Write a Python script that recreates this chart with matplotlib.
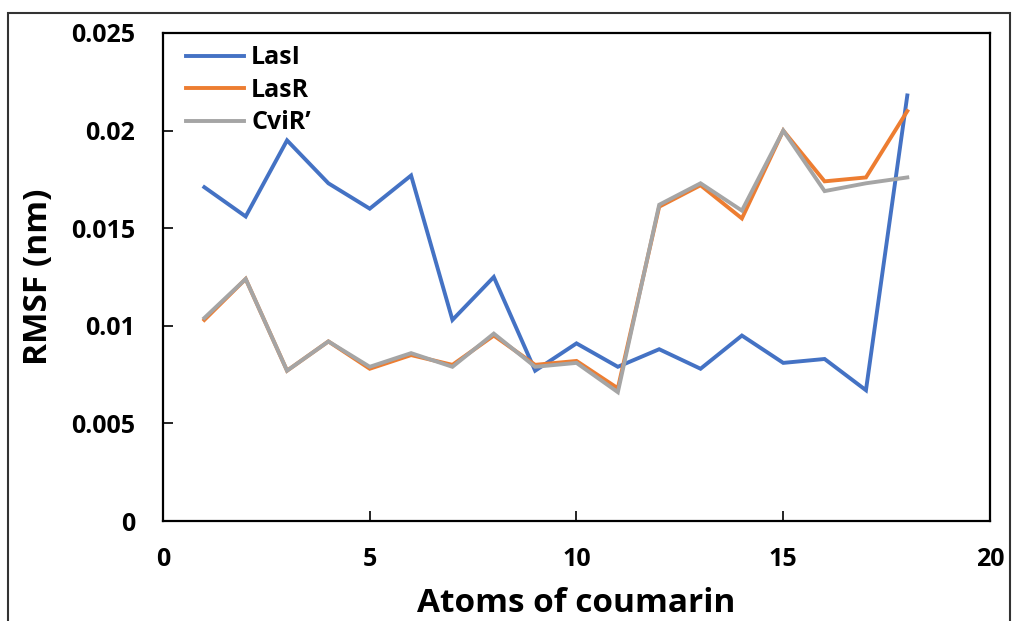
import numpy as np
import matplotlib
matplotlib.use('Agg')
import matplotlib.pyplot as plt
from matplotlib.patches import Rectangle

plt.rcParams['font.family'] = ['Open Sans', 'DejaVu Sans']
plt.rcParams['font.weight'] = 'bold'

# 数据
atoms = list(range(1, 19))
lasI = [0.0171, 0.0156, 0.0195, 0.0173, 0.0160, 0.0177, 0.0103, 0.0125, 0.0077,
        0.0091, 0.0079, 0.0088, 0.0078, 0.0095, 0.0081, 0.0083, 0.0067, 0.0218]
lasR = [0.0103, 0.0124, 0.0077, 0.0092, 0.0078, 0.0085, 0.0080, 0.0095, 0.0080,
        0.0082, 0.0068, 0.0161, 0.0172, 0.0155, 0.0200, 0.0174, 0.0176, 0.0210]
cviR = [0.0104, 0.0124, 0.0077, 0.0092, 0.0079, 0.0086, 0.0079, 0.0096, 0.0079,
        0.0081, 0.0066, 0.0162, 0.0173, 0.0159, 0.0200, 0.0169, 0.0173, 0.0176]
series_names = ['LasI', 'LasR', 'CviR\u2019']
colors = ['#4472C4', '#ED7D31', '#A5A5A5']

fig = plt.figure(figsize=(10.18, 6.21), dpi=100)
ax = fig.add_axes([0.1601, 0.161, 0.8124, 0.7859])

for ys, name, c in zip([lasI, lasR, cviR], series_names, colors):
    ax.plot(atoms, ys, color=c, linewidth=2.8, label=name, solid_joinstyle='miter')

ax.set_xlim(0, 20)
ax.set_ylim(0, 0.025)
ax.set_xticks([0, 5, 10, 15, 20])
ax.set_yticks([0, 0.005, 0.01, 0.015, 0.02, 0.025])
ax.set_yticklabels(['0', '0.005', '0.01', '0.015', '0.02', '0.025'])
ax.tick_params(direction='in', length=7, width=1.2, labelsize=18)
ax.tick_params(axis='y', pad=20)
ax.tick_params(axis='x', pad=19)
for lab in ax.get_xticklabels() + ax.get_yticklabels():
    lab.set_fontweight('bold')
for sp in ax.spines.values():
    sp.set_linewidth(1.6)

ax.set_ylabel('RMSF (nm)', fontsize=24, fontweight='bold')
ax.set_xlabel('Atoms of coumarin', fontsize=24, fontweight='bold')
ax.yaxis.set_label_coords(-0.131, 0.5)
ax.xaxis.set_label_coords(0.5, -0.135)

leg = ax.legend(loc='upper left', bbox_to_anchor=(0.013, 1.0), frameon=False,
                fontsize=18, handlelength=2.3, handletextpad=0.3,
                labelspacing=0.3, borderaxespad=0.1)
for t in leg.get_texts():
    t.set_fontweight('bold')

# 外框
fig.patches.append(Rectangle((8 / 1018, -0.05), 1002 / 1018, 1.05 - 13 / 621,
                             transform=fig.transFigure, fill=False,
                             edgecolor='#333333', linewidth=1.5))

fig.savefig('out.png', dpi=100)
